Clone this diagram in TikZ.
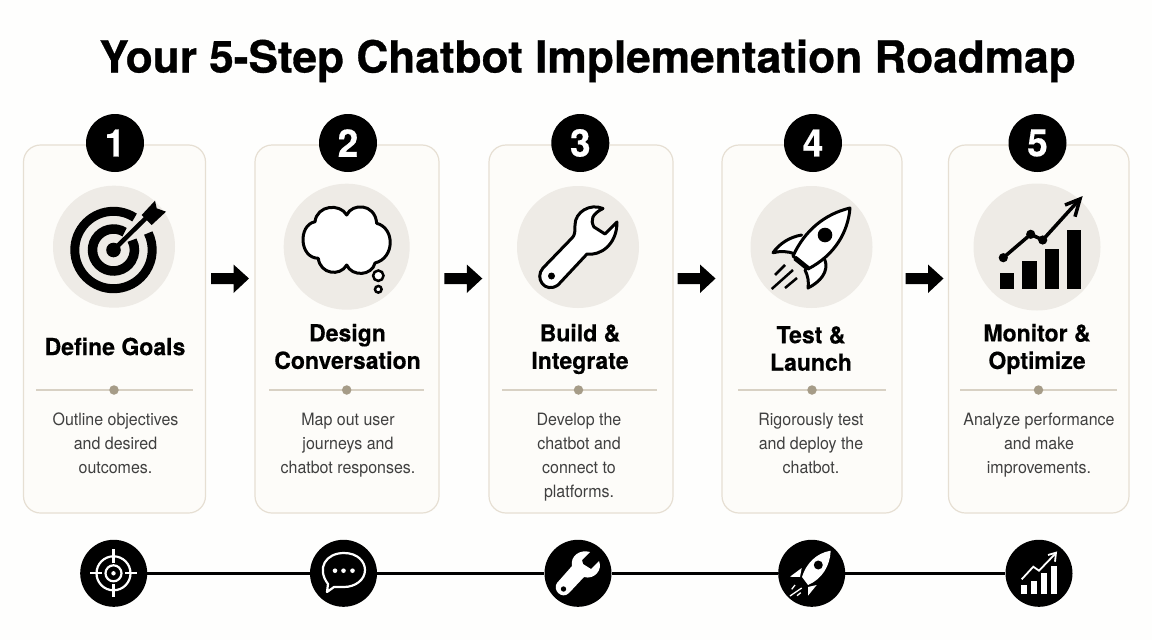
\documentclass[tikz,border=0pt]{standalone}
\usepackage{fontspec}
\setmainfont{TeX Gyre Heros}
\newfontfamily\titlefont[BoldFeatures={FakeBold=0.7}]{TeX Gyre Heros}
\newfontfamily\headfont[FakeStretch=0.98,BoldFeatures={FakeBold=0.35}]{TeX Gyre Heros}
\newfontfamily\blurbfont[FakeStretch=0.94]{TeX Gyre Heros}
\usetikzlibrary{positioning}
\usetikzlibrary{calc}
\definecolor{pagefill}{HTML}{FEFEFD}
\definecolor{cardfill}{HTML}{FDFCF9}
\definecolor{cardline}{HTML}{E6DFD3}
\definecolor{discfill}{HTML}{EEEBE6}
\definecolor{ruleline}{HTML}{D8D1C4}
\definecolor{dotfill}{HTML}{A69C88}
\definecolor{bodytext}{HTML}{404040}
\tikzset{
  card/.style={draw=cardline, fill=cardfill, line width=1.2pt, rounded corners=17pt},
  disc/.style={circle, fill=discfill, inner sep=0pt},
  badge/.style={circle, fill=black, text=white, inner sep=0pt, minimum size=58pt, font=\fontsize{38}{38}\selectfont\headfont\bfseries},
  token/.style={circle, fill=black, inner sep=0pt, minimum size=67pt},
  heading/.style={align=center, font=\fontsize{23.5}{27.5}\selectfont\headfont\bfseries},
  blurb/.style={align=center, text=bodytext, font=\fontsize{17}{24}\selectfont\blurbfont},
  rulebar/.style={draw=ruleline, line width=1.2pt},
  dotmark/.style={circle, fill=dotfill, inner sep=0pt, minimum size=9.5pt},
  bigarrow/.style={fill=black},
  inkline/.style={fill=white, line width=3pt, line join=round, line cap=round},
}
\begin{document}
\begin{tikzpicture}[x=1pt, y=-1pt]
\useasboundingbox (0, 0) rectangle (1152, 640);
\fill [pagefill] (0, 0) rectangle (1152, 640);

\node [anchor=base] (title) at (587.5, 72.5) {\fontsize{44.2}{50}\selectfont\titlefont\bfseries Your 5-Step Chatbot Implementation Roadmap};

% cards
\draw [card] (23.5, 145) rectangle (205.5, 513);
\draw [card] (255, 145) rectangle (439, 513);
\draw [card] (489, 145) rectangle (673, 513);
\draw [card] (722, 145) rectangle (902, 513);
\draw [card] (948.5, 145) rectangle (1129, 513);

\node [badge] (one) at (115, 143) {1};
\node [badge] (two) at (348, 143) {2};
\node [badge] (three) at (580.3, 143) {3};
\node [badge] (four) at (813, 143) {4};
\node [badge] (five) at (1037.5, 143) {5};

\node [disc, minimum size=122pt] (goaldisc) at (114, 246.7) {};
\node [disc, minimum size=126pt] (talkdisc) at (346.7, 246.7) {};
\node [disc, minimum size=122pt] (wrenchdisc) at (578, 247) {};
\node [disc, minimum size=122pt] (rocketdisc) at (811.5, 247) {};
\node [disc, minimum size=127pt] (chartdisc) at (1037, 247) {};

% arrows between cards
\foreach \ax in {211, 444.3, 677.5, 905.5} {
  \fill [bigarrow] (\ax, 273) -- (\ax+22.5, 273) -- (\ax+22.5, 264.5) -- (\ax+38, 278.5) -- (\ax+22.5, 293) -- (\ax+22.5, 284) -- (\ax, 284) -- cycle;
}

% target
\draw [line width=9pt] (113.5, 250) ++(-57:38.7) arc (-57:-386:38.7);
\draw [line width=9.5pt] (113.5, 250) ++(-58:21) arc (-58:-388:21);
\fill (113.5, 250) circle (7.3pt);
\draw [line width=4.5pt] (113.5, 250) -- (146, 218);
\fill (141.7, 215) -- (155, 200.7) -- (156.7, 208.3) -- (166, 211.7) -- (151.7, 225) -- cycle;

% cloud
\draw [inkline] (315, 221.7)
  .. controls (317, 205) and (340, 203) .. (346.7, 215)
  .. controls (352, 203) and (375, 203) .. (376.7, 223.3)
  .. controls (395, 228) and (395, 258) .. (375, 263)
  .. controls (372, 276) and (352, 277) .. (346.7, 265)
  .. controls (340, 277) and (320, 274) .. (318.3, 258.3)
  .. controls (299, 258) and (298, 225) .. (315, 221.7) -- cycle;
\draw [line width=2.5pt, fill=white] (378.3, 275.7) circle (5.2pt);
\draw [line width=2.5pt, fill=white] (378.3, 289.3) circle (3.3pt);

% wrench
\draw [inkline] (603, 208.5)
  .. controls (590, 203) and (575, 212) .. (575, 225)
  .. controls (575, 232) and (575, 235) .. (572, 238)
  -- (543, 268)
  .. controls (534, 278) and (545, 294) .. (558, 285)
  -- (587, 254)
  .. controls (600, 256) and (617, 245) .. (617, 222)
  -- (605, 234)
  -- (594, 227)
  .. controls (590, 220) and (592, 214) .. (603, 208.5) -- cycle;
\fill (551.5, 276) circle (3.5pt);

% rocket
\draw [inkline] (801.7, 235) .. controls (790, 237) and (780, 243) .. (773, 252.7) .. controls (780, 251) and (788, 251) .. (795, 254);
\draw [inkline] (825, 260) .. controls (829, 272) and (820, 282) .. (808, 288) .. controls (809, 282) and (808, 276) .. (805, 270);
\draw [inkline] (850, 208)
  .. controls (825, 214) and (805, 230) .. (793, 256)
  -- (808, 269)
  .. controls (835, 255) and (848, 232) .. (850, 208) -- cycle;
\draw [line width=5pt] (795, 258) -- (808, 268.5);
\fill (825, 235) circle (7.3pt);
\draw [line width=2.5pt] (785, 265) -- (775, 275);
\draw [line width=2.5pt] (793, 270) -- (771.7, 289);
\draw [line width=2.5pt] (797, 278) -- (785, 288);

% chart
\fill (1000, 272.7) rectangle (1014.3, 288.5);
\fill (1022.3, 260.7) rectangle (1036.7, 288.5);
\fill (1045, 249) rectangle (1059.3, 288.5);
\fill (1066.7, 230) rectangle (1081.3, 288.5);
\draw [line width=3.5pt] (1003.3, 257.7) -- (1030.7, 234.3) -- (1042.7, 240) -- (1079, 200);
\fill (1003.3, 257.7) circle (4.6pt);
\fill (1030.7, 234.3) circle (4.6pt);
\fill (1042.7, 240) circle (4.6pt);
\draw [line width=3.5pt, line join=miter] (1065, 205) -- (1080, 199) -- (1075, 216.7);

% headings
\node [heading] (goalhead) at (115, 346.5) {Define Goals};
\node [heading] (talkhead) at (347.5, 346.5) {Design\\Conversation};
\node [heading] (buildhead) at (580, 349) {Build \&\\Integrate};
\node [heading] (testhead) at (811, 348.5) {Test \&\\Launch};
\node [heading] (monitorhead) at (1037, 349) {Monitor \&\\Optimize};

% rules
\draw [rulebar] (36, 390) -- (193, 390);
\draw [rulebar] (269, 390) -- (424, 390);
\draw [rulebar] (502, 390) -- (657, 390);
\draw [rulebar] (738, 390) -- (886, 390);
\draw [rulebar] (960, 390) -- (1117, 390);
\node [dotmark] (dotone) at (114, 390) {};
\node [dotmark] (dottwo) at (346.7, 390) {};
\node [dotmark] (dotthree) at (578.5, 390) {};
\node [dotmark] (dotfour) at (812, 390) {};
\node [dotmark] (dotfive) at (1038.5, 390) {};

% body text
\node [blurb, anchor=north] (goaltext) at (115.5, 409) {Outline objectives\\and desired\\outcomes.};
\node [blurb, anchor=north] (talktext) at (348, 410) {Map out user\\journeys and\\chatbot responses.};
\node [blurb, anchor=north] (buildtext) at (579, 410) {Develop the\\chatbot and\\connect to\\platforms.};
\node [blurb, anchor=north] (testtext) at (811, 410) {Rigorously test\\and deploy the\\chatbot.};
\node [blurb, anchor=north] (monitortext) at (1039, 410) {Analyze performance\\and make\\improvements.};

% timeline
\node [token] (goaltoken) at (113.7, 573.3) {};
\node [token] (talktoken) at (343.5, 573.3) {};
\node [token] (wrenchtoken) at (578, 573.3) {};
\node [token] (rockettoken) at (811.7, 573.3) {};
\node [token] (charttoken) at (1039, 573.3) {};
\draw [line width=3pt] (goaltoken) -- (talktoken);
\draw [line width=3pt] (talktoken) -- (wrenchtoken);
\draw [line width=3pt] (wrenchtoken) -- (rockettoken);
\draw [line width=3pt] (rockettoken) -- (charttoken);

% token glyphs
\draw [white, line width=2.2pt] (113.5, 573.3) circle (17pt);
\draw [white, line width=2.2pt] (113.5, 573.3) circle (8pt);
\fill [white] (113.5, 573.3) circle (2.2pt);
\draw [white, line width=2.2pt] (113.5, 549) -- (113.5, 563);
\draw [white, line width=2.2pt] (113.5, 584) -- (113.5, 597);
\draw [white, line width=2.2pt] (90, 573.3) -- (102, 573.3);
\draw [white, line width=2.2pt] (125, 573.3) -- (137, 573.3);

\draw [white, line width=2.2pt, line join=round] (328, 584)
  .. controls (316, 568) and (326, 553) .. (344, 553)
  .. controls (358, 553) and (365, 562) .. (365, 570)
  .. controls (365, 580) and (355, 587) .. (344, 587)
  .. controls (340, 587) and (337, 587) .. (334, 587)
  -- (327, 592) -- cycle;
\foreach \gx in {335, 343.5, 352.5} {
  \fill [white] (\gx, 570.7) circle (2.3pt);
}

\fill [white] (590, 552)
  .. controls (580, 549) and (570, 556) .. (572, 566)
  -- (557, 583)
  .. controls (552, 590) and (562, 600) .. (569, 593)
  -- (584, 577)
  .. controls (594, 580) and (603, 570) .. (599, 561)
  -- (591, 569)
  -- (583, 564)
  -- (582, 560) -- cycle;
\fill [black] (563.5, 589) circle (2.7pt);

\fill [white] (830.7, 550.7)
  .. controls (816, 553) and (806, 564) .. (802, 577)
  -- (808, 585)
  .. controls (822, 579) and (830, 566) .. (830.7, 550.7) -- cycle;
\fill [black] (818.3, 565) circle (4.5pt);
\fill [white] (801.7, 568) -- (790, 576.7) -- (800, 577) -- cycle;
\fill [white] (816.7, 585) -- (808, 595.7) -- (808, 587) -- cycle;
\draw [white, line width=1.3pt] (795, 585) -- (791.7, 589.3);
\draw [white, line width=1.3pt] (801.7, 588) -- (790, 596);
\draw [white, line width=1.3pt] (800.7, 592.7) -- (797, 595.7);

\fill [white] (1020.7, 585) rectangle (1027.3, 594);
\fill [white] (1031, 580.7) rectangle (1037.3, 594);
\fill [white] (1040.7, 573.3) rectangle (1047.3, 594);
\fill [white] (1050.7, 566) rectangle (1057.3, 594);
\draw [white, line width=1.8pt] (1021.7, 579.3) -- (1033.3, 566.7) -- (1039, 570.7) -- (1055, 554);
\draw [white, line width=1.8pt, line join=miter] (1048, 555) -- (1056, 552.7) -- (1055, 561.7);

\end{tikzpicture}
\end{document}
